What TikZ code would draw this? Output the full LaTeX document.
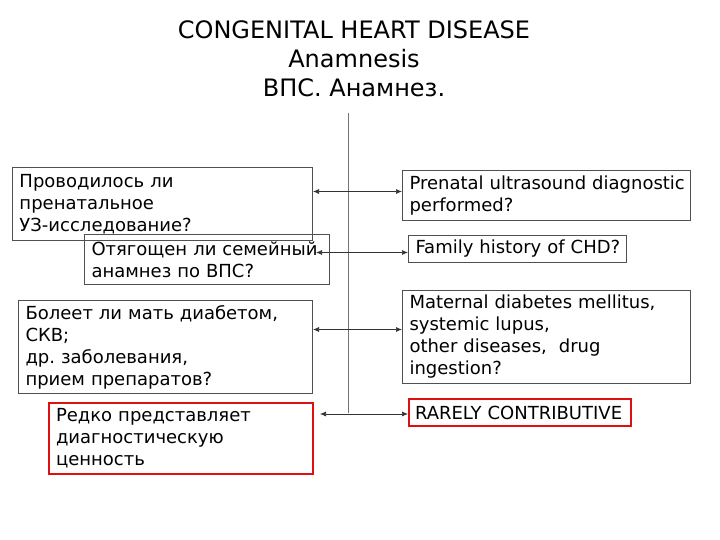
\documentclass[tikz,border=0pt]{standalone}
\usepackage{fontspec}
\setmainfont{DejaVu Sans}
\usetikzlibrary{arrows.meta,positioning,calc}

\definecolor{boxgray}{HTML}{505050}
\definecolor{boxred}{HTML}{E01010}

\frenchspacing

\tikzset{
  box/.style={draw=boxgray, line width=1pt, inner xsep=7pt, inner ysep=2pt,
    align=left, anchor=north west, font=\fontsize{18}{22}\selectfont},
  redbox/.style={box, draw=boxred, line width=2pt},
  title/.style={align=center, font=\fontsize{24}{29}\selectfont},
  link/.style={draw=black!80, line width=0.7pt,
    {Latex[length=6pt,width=5pt]}-{Latex[length=6pt,width=5pt]}},
  spine/.style={draw=black!55, line width=1pt}
}

\begin{document}
\begin{tikzpicture}[x=1pt,y=1pt]
  \useasboundingbox (0,0) rectangle (720,-540);

  \node[title] (title) at (354,-59)
    {CONGENITAL HEART DISEASE\\Anamnesis\\ВПС. Анамнез.};

  % questions, russian side
  \node[box, text width=286pt, minimum height=73pt] (prenQ) at (12,-167)
    {Проводилось ли\\пренатальное\\УЗ-исследование?};
  \node[box, text width=231pt, minimum height=50pt] (famQ) at (84,-234)
    {\mbox{Отягощен ли семейный}\\анамнез по ВПС?};
  \node[box, text width=280pt, minimum height=93pt] (matQ) at (18,-300)
    {Болеет ли мать диабетом,\\СКВ;\\др. заболевания,\\прием препаратов?};
  \node[redbox, text width=250pt, minimum height=71pt] (rareQ) at (48,-402)
    {Редко представляет\\диагностическую\\ценность};

  % english side
  \node[box, text width=274pt, minimum height=50pt] (prenE) at (402,-170)
    {\mbox{Prenatal ultrasound diagnostic}\\performed?};
  \node[box, text width=204pt, minimum height=27pt] (famE) at (408,-235)
    {\mbox{Family history of CHD?}};
  \node[box, text width=274pt, minimum height=93pt] (matE) at (402,-290)
    {Maternal diabetes mellitus,\\systemic lupus,\\other diseases,\ \ drug\\ingestion?};
  \node[redbox, inner xsep=6pt, text width=210pt, minimum height=27pt] (rareE) at (408,-398)
    {\mbox{RARELY CONTRIBUTIVE}};

  \coordinate (spineTop) at (348,-113);
  \draw[spine] (spineTop) -- ++(0,-300);

  \draw[link] ([yshift=4pt]prenE.west -| prenQ.east) -- ([yshift=4pt]prenE.west);
  \draw[link] ($(famE.west -| famQ.east)+(-14pt,-3.5pt)$) -- ([yshift=-3.5pt]famE.west);
  \draw[link] ([yshift=7.5pt]matE.west -| matQ.east) -- ([yshift=7.5pt]matE.west);
  \draw[link] ($(rareE.west -| rareQ.east)+(6pt,-1.5pt)$) -- ([yshift=-1.5pt]rareE.west);
\end{tikzpicture}
\end{document}
